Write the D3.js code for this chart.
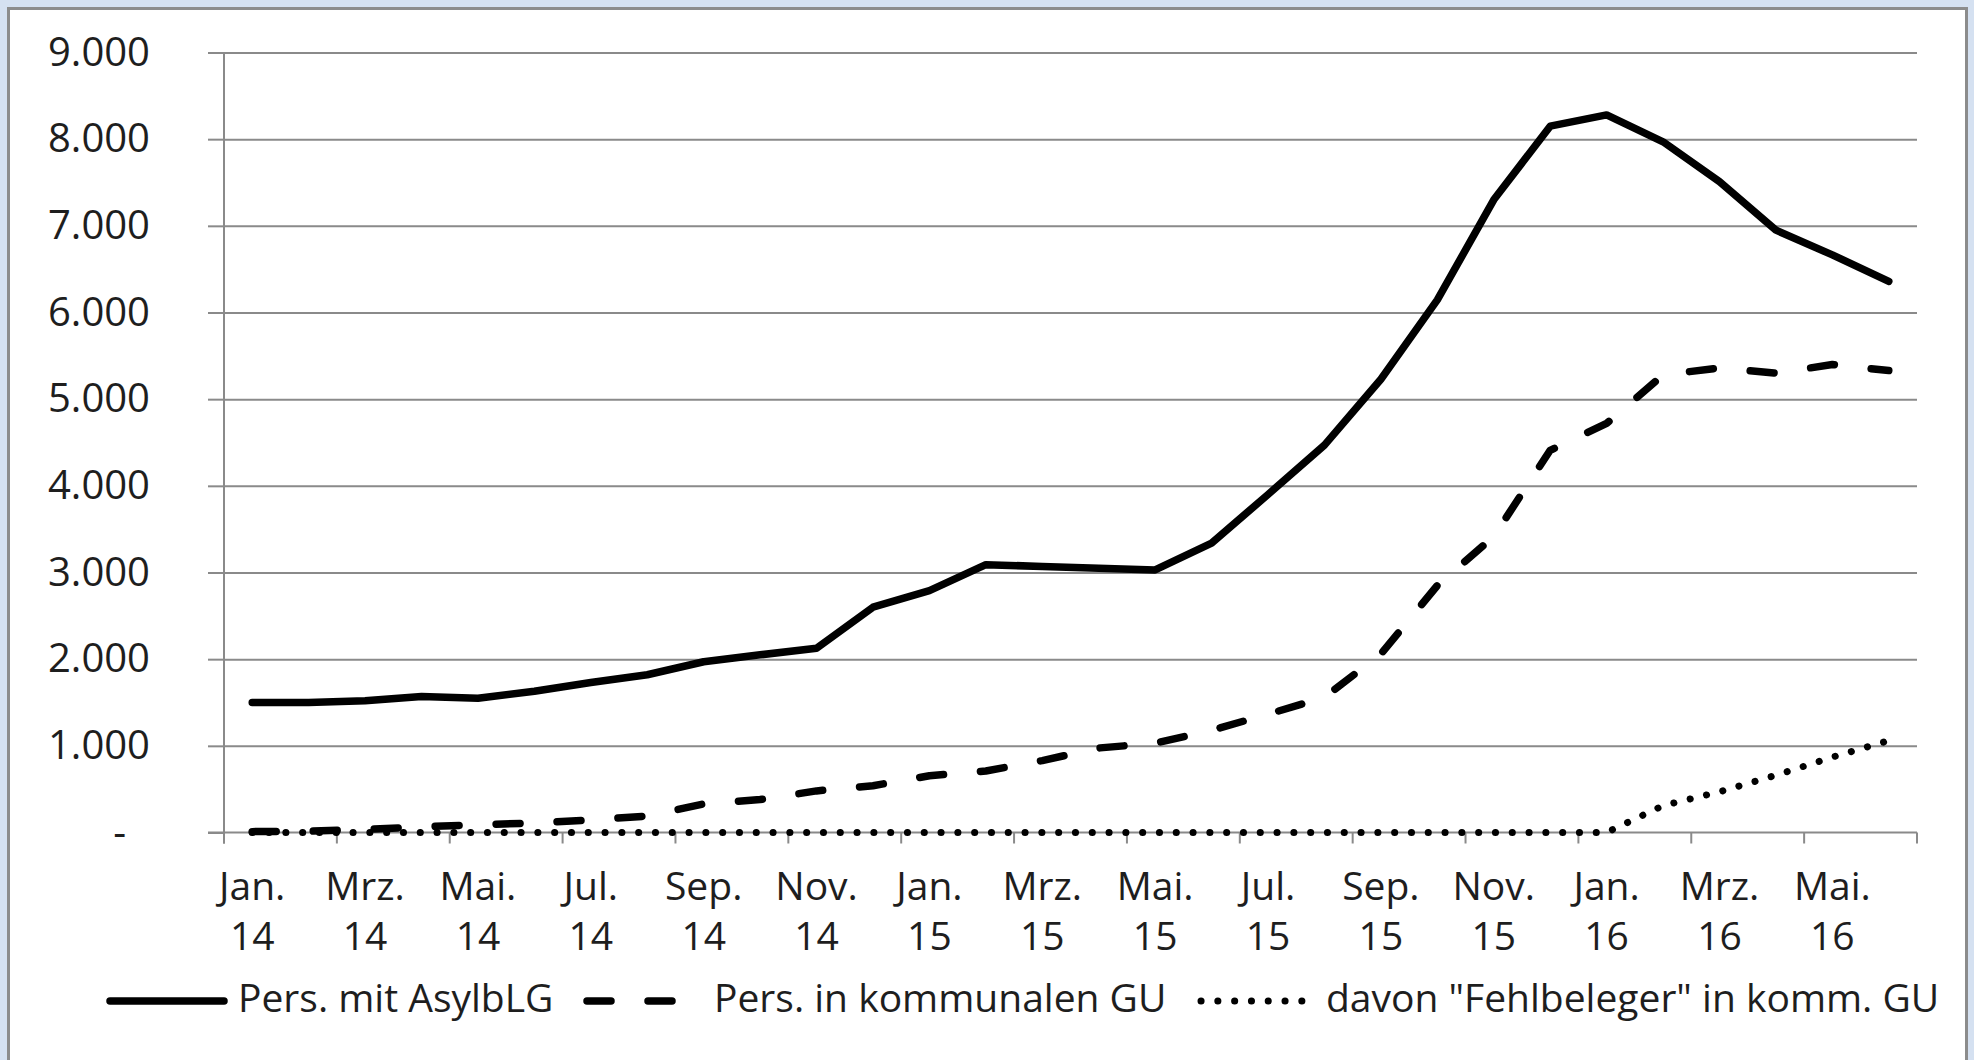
<!DOCTYPE html>
<html>
<head>
<meta charset="utf-8">
<script src="https://cdn.jsdelivr.net/npm/d3@7"></script>
<style>
  html, body { margin: 0; padding: 0; background: #d5e1f1; }
  svg { display: block; }
  text { font-family: "Open Sans", "Noto Sans", sans-serif; fill: #1e1e1e; }
</style>
</head>
<body>
<svg id="chart" width="1974" height="1060"></svg>
<script>
// ---- data ----
const months = ["Jan.", "Feb.", "Mrz.", "Apr.", "Mai.", "Jun.", "Jul.", "Aug.", "Sep.", "Okt.", "Nov.", "Dez."];
const years = ["14", "15", "16"];
const categories = [
  "Jan. 14","Feb. 14","Mrz. 14","Apr. 14","Mai. 14","Jun. 14","Jul. 14","Aug. 14","Sep. 14","Okt. 14","Nov. 14","Dez. 14",
  "Jan. 15","Feb. 15","Mrz. 15","Apr. 15","Mai. 15","Jun. 15","Jul. 15","Aug. 15","Sep. 15","Okt. 15","Nov. 15","Dez. 15",
  "Jan. 16","Feb. 16","Mrz. 16","Apr. 16","Mai. 16","Jun. 16"
];
const persAsylbLG = [1500, 1500, 1520, 1570, 1550, 1630, 1730, 1820, 1970, 2050, 2125, 2600,
                     2790, 3090, 3070, 3050, 3030, 3340, 3900, 4470, 5230, 6145, 7300, 8150,
                     8280, 7970, 7510, 6950, 6665, 6360];
const persKommGU = [10, 15, 35, 65, 90, 110, 145, 190, 330, 380, 480, 540,
                    655, 710, 830, 975, 1030, 1180, 1365, 1560, 2060, 2850, 3415, 4410,
                    4720, 5280, 5360, 5300, 5400, 5330];
const fehlbeleger = [0, 0, 0, 0, 0, 0, 0, 0, 0, 0, 0, 0,
                     0, 0, 0, 0, 0, 0, 0, 0, 0, 0, 0, 0,
                     0, 310, 470, 660, 870, 1060];
const yTicks = [0, 1000, 2000, 3000, 4000, 5000, 6000, 7000, 8000, 9000];
const seriesNames = ["Pers. mit AsylbLG", "Pers. in kommunalen GU", "davon \"Fehlbeleger\" in komm. GU"];

// ---- layout ----
const svg = d3.select("#chart");
const plot = { left: 224, right: 1917, top: 52.5, bottom: 832.5 };
const gridColor = "#8a8a8a";

// chart frame
svg.append("rect")
  .attr("x", 8.5).attr("y", 8.5).attr("width", 1958).attr("height", 1100)
  .attr("fill", "#ffffff").attr("stroke", "#8c8c8c").attr("stroke-width", 3);

const x = d3.scaleBand().domain(categories).range([plot.left, plot.right]).padding(0);
const y = d3.scaleLinear().domain([0, 9000]).range([plot.bottom, plot.top]);
const cx = c => x(c) + x.bandwidth() / 2;

const de = d3.formatLocale({ decimal: ",", thousands: ".", grouping: [3], currency: ["", "€"] });
const fmt = de.format(",");

// gridlines
svg.append("g")
  .attr("transform", `translate(${plot.left},0)`)
  .call(d3.axisLeft(y).tickValues(yTicks.filter(v => v > 0)).tickSize(-(plot.right - plot.left)).tickFormat(""))
  .call(g => g.select(".domain").remove())
  .call(g => g.selectAll("line").attr("stroke", gridColor).attr("stroke-width", 2));

// y axis
const yAxis = svg.append("g")
  .attr("transform", `translate(${plot.left},0)`)
  .call(d3.axisLeft(y).tickValues(yTicks).tickSize(16).tickPadding(74 - 16)
        .tickFormat(d => d === 0 ? "-" : fmt(d)));
yAxis.select(".domain").remove();
yAxis.selectAll("line").attr("stroke", gridColor).attr("stroke-width", 2);
yAxis.selectAll("text")
  .style("font-size", "40px")
  .attr("fill", "#1e1e1e")
  .attr("dx", d => d === 0 ? -24 : 0);
svg.append("line")
  .attr("x1", plot.left).attr("x2", plot.left)
  .attr("y1", plot.top).attr("y2", plot.bottom + 11)
  .attr("stroke", gridColor).attr("stroke-width", 2);

// x axis line
svg.append("line")
  .attr("x1", plot.left - 16).attr("x2", plot.right)
  .attr("y1", plot.bottom).attr("y2", plot.bottom)
  .attr("stroke", gridColor).attr("stroke-width", 2);

// x tick marks every 2 categories at boundaries
const tickIdx = d3.range(0, categories.length + 1, 2);
svg.append("g").selectAll("line").data(tickIdx).join("line")
  .attr("x1", i => i < categories.length ? x(categories[i]) : plot.right)
  .attr("x2", i => i < categories.length ? x(categories[i]) : plot.right)
  .attr("y1", plot.bottom).attr("y2", plot.bottom + 11)
  .attr("stroke", gridColor).attr("stroke-width", 2);

// x labels
const labelCats = categories.filter((c, i) => i % 2 === 0);
const xl = svg.append("g").selectAll("text").data(labelCats).join("text")
  .attr("text-anchor", "middle")
  .style("font-size", "39px");
xl.append("tspan").attr("x", d => cx(d)).attr("y", 900).text(d => d.split(" ")[0]);
xl.append("tspan").attr("x", d => cx(d)).attr("y", 950).text(d => d.split(" ")[1]);

// lines
const line = d3.line().x((d, i) => cx(categories[i])).y(d => y(d));
const seriesData = [persAsylbLG, persKommGU, fehlbeleger];
const styles = [
  { dash: null, cap: "round", w: 7.5 },
  { dash: "24 37", cap: "round", w: 7.5 },
  { dash: "0.1 16.7", cap: "round", w: 7 }
];
seriesData.forEach((s, k) => {
  svg.append("path")
    .datum(s)
    .attr("d", line)
    .attr("fill", "none")
    .attr("stroke", "#000")
    .attr("stroke-width", styles[k].w)
    .attr("stroke-linecap", styles[k].cap)
    .attr("stroke-linejoin", "round")
    .attr("stroke-dasharray", styles[k].dash);
});

// legend
const legendY = 1001;
const legendItems = [
  { x1: 110, x2: 224, tx: 238 },
  { x1: 587, x2: 674, tx: 714 },
  { x1: 1201, x2: 1306, tx: 1326 }
];
const lg = svg.append("g");
legendItems.forEach((it, k) => {
  lg.append("line")
    .attr("x1", it.x1).attr("x2", it.x2).attr("y1", legendY).attr("y2", legendY)
    .attr("stroke", "#000").attr("stroke-width", styles[k].w)
    .attr("stroke-linecap", styles[k].cap)
    .attr("stroke-dasharray", styles[k].dash);
  lg.append("text")
    .attr("x", it.tx).attr("y", legendY + 11)
    .style("font-size", "39px")
    .text(seriesNames[k]);
});
</script>
</body>
</html>
